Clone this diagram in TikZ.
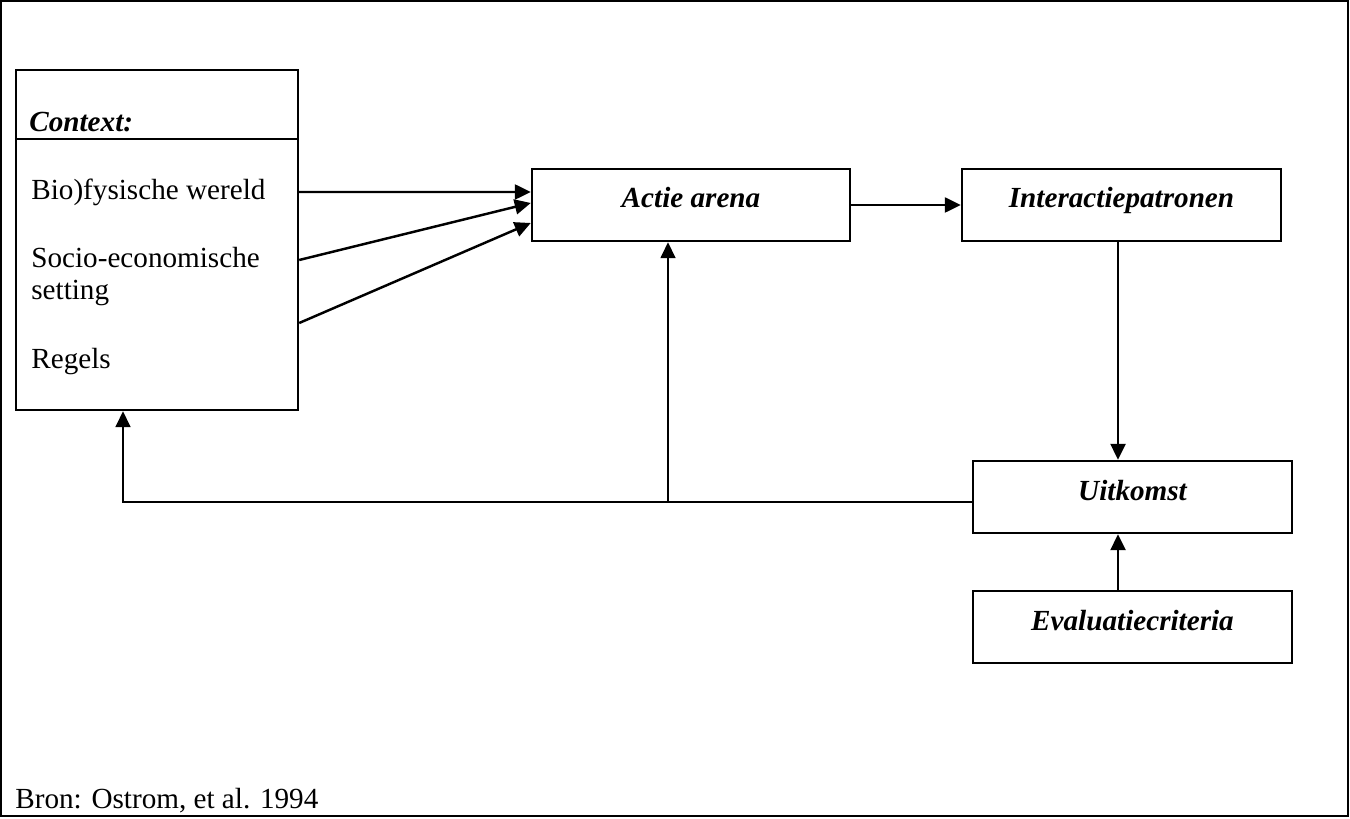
\documentclass[tikz,border=0pt]{standalone}
\usepackage{fontspec}
\setmainfont{Liberation Serif}
\usetikzlibrary{arrows.meta}

\begin{document}
\begin{tikzpicture}[
    vak/.style={draw, line width=1.4pt, minimum height=1.44cm, text height=0.5cm, text depth=0.38cm, font=\fontsize{16.6}{20}\selectfont\bfseries\itshape},
    regel/.style={anchor=base west, inner sep=0pt, font=\fontsize{16.6}{20}\selectfont},
    pijl/.style={line width=1.4pt, -{Triangle[length=0.32cm,width=0.3cm]}},
    terug/.style={line width=1pt, -{Triangle[length=0.32cm,width=0.3cm]}}
    ]
    \useasboundingbox (0,0) rectangle (27,16.36);
    \draw[line width=1.5pt] (0.02,0.04) rectangle (26.96,16.34);
    % context box
    \node[draw, line width=1.4pt, minimum width=5.64cm, minimum height=6.8cm, inner sep=0pt] (ctx) at (3.14,11.56) {};
    \draw[line width=1.4pt] (ctx.west |- 0,13.58) -- (ctx.east |- 0,13.58);
    \node[regel, font=\fontsize{16.6}{20}\selectfont\bfseries\itshape] (ctxkop) at (0.58,13.72) {Context:};
    \node[regel] (bio) at (0.62,12.36) {Bio)fysische wereld};
    \node[regel] (socio) at (0.62,11.00) {Socio-economische};
    \node[regel] (setting) at (0.62,10.36) {setting};
    \node[regel] (regels) at (0.62,9.00) {Regels};
    % boxes
    \node[vak, minimum width=6.36cm] (act) at (13.82,12.26) {Actie arena};
    \node[vak, minimum width=6.38cm] (inter) at (22.43,12.26) {Interactiepatronen};
    \node[vak, minimum width=6.38cm] (uit) at (22.65,6.42) {Uitkomst};
    \node[vak, minimum width=6.38cm] (eval) at (22.65,3.82) {Evaluatiecriteria};
    \node[regel] (bron) at (0.30,0.20) {Bron: Ostrom, et al. 1994};
    % arrows
    \draw[pijl] (ctx.east |- 0,12.52) -- ([yshift=0.26cm]act.west);
    \draw[pijl] (ctx.east |- 0,11.16) -- ([yshift=0.04cm]act.west);
    \draw[pijl] (ctx.east |- 0,9.90) -- ([yshift=-0.36cm]act.west);
    \draw[pijl] (act.east) -- (inter.west);
    \draw[pijl] (22.36,0 |- inter.south) -- (22.36,0 |- uit.north);
    \draw[pijl] (22.36,0 |- eval.north) -- (22.36,0 |- uit.south);
    % feedback
    \coordinate (split) at (13.36,6.32);
    \draw[terug] ([yshift=-0.1cm]uit.west) -| ([xshift=-0.68cm]ctx.south);
    \draw[terug] (split) -- (split |- act.south);
\end{tikzpicture}
\end{document}
